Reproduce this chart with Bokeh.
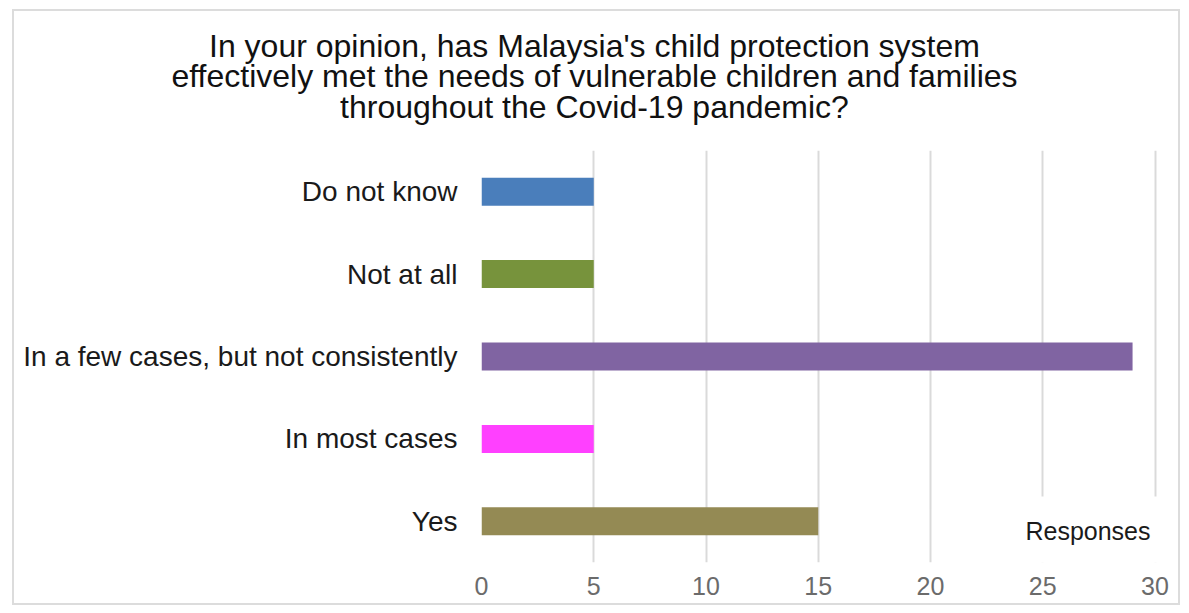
from bokeh.plotting import figure
from bokeh.models import FactorRange, Range1d, FixedTicker, Label, ColumnDataSource
from bokeh.layouts import column
from bokeh.embed import file_html
from bokeh.resources import INLINE

categories = ["Do not know", "Not at all", "In a few cases, but not consistently", "In most cases", "Yes"]
responses = [5, 5, 29, 5, 15]
colors = ["#4a7ebb", "#77933c", "#8064a2", "#ff40ff", "#948a54"]
x_ticks = [0, 5, 10, 15, 20, 25, 30]
title_lines = [
    "In your opinion, has Malaysia's child protection system",
    "effectively met the needs of vulnerable children and families",
    "throughout the Covid-19 pandemic?",
]
x_axis_title = "Responses"

FONT = "Liberation Sans"
W, H = 1189, 613
TH = 150          # height of the title strip
FL = 481          # frame left
MB = 51           # bottom border of the main plot

# ---- title strip (its frame covers the whole strip) ----
t = figure(width=W, height=TH, x_range=Range1d(0, W), y_range=Range1d(0, TH),
           output_backend="svg", toolbar_location=None, title=None,
           x_axis_location=None, y_axis_location=None,
           min_border=0, frame_align=False)
t.grid.visible = False
t.outline_line_color = None
t.background_fill_color = "white"
t.border_fill_color = "white"
for i, line in enumerate(title_lines):
    t.add_layout(Label(
        x=594, y=TH - (45 + i * 30.5),
        text=line, text_align="center", text_baseline="middle",
        text_font=FONT, text_font_size="32px", text_color="#111111",
    ))

# ---- main chart ----
src = ColumnDataSource(dict(cat=categories, val=responses, color=colors))

p = figure(
    width=W, height=H - TH,
    y_range=FactorRange(*list(reversed(categories)), range_padding=0),
    x_range=Range1d(0, 30.2),
    output_backend="svg", toolbar_location=None, title=None,
    min_border_left=FL, min_border_right=30, min_border_top=0, min_border_bottom=MB,
    frame_align=False,
)
p.hbar(y="cat", right="val", left=0, height=0.34, color="color", source=src, line_color=None)

p.outline_line_color = None
p.background_fill_color = "white"
p.border_fill_color = "white"

p.ygrid.grid_line_color = None
p.xgrid.grid_line_color = "#dadada"
p.xgrid.grid_line_width = 2
p.xaxis.ticker = FixedTicker(ticks=x_ticks)

for ax in (p.xaxis, p.yaxis):
    ax.axis_line_color = None
    ax.major_tick_line_color = None
    ax.minor_tick_line_color = None
    ax.major_tick_out = 0
    ax.major_tick_in = 0
    ax.major_label_text_font = FONT

p.xaxis.major_label_text_font_size = "25px"
p.xaxis.major_label_text_color = "#6b6b6b"
p.xaxis.major_label_standoff = 14
p.yaxis.major_label_text_font_size = "28px"
p.yaxis.major_label_text_color = "#1a1a1a"
p.yaxis.major_label_standoff = 24

p.add_layout(Label(
    x=1158 - FL, y=32, x_units="screen", y_units="screen",
    text=x_axis_title, text_align="right", text_baseline="middle",
    text_font=FONT, text_font_size="25px", text_color="#1a1a1a",
    background_fill_color="white",
    padding=dict(left=10, right=8, top=20, bottom=20),
))

layout = column(t, p, spacing=0)
layout.stylesheets = [
    ":host { position: relative; }"
    ":host::after { content: ''; position: absolute; left: 12px; top: 9px; "
    "width: 1168px; height: 596px; border: 2px solid #dcdcdc; box-sizing: border-box; "
    "pointer-events: none; z-index: 100; }"
]

open("out.html", "w").write(file_html(layout, INLINE))
